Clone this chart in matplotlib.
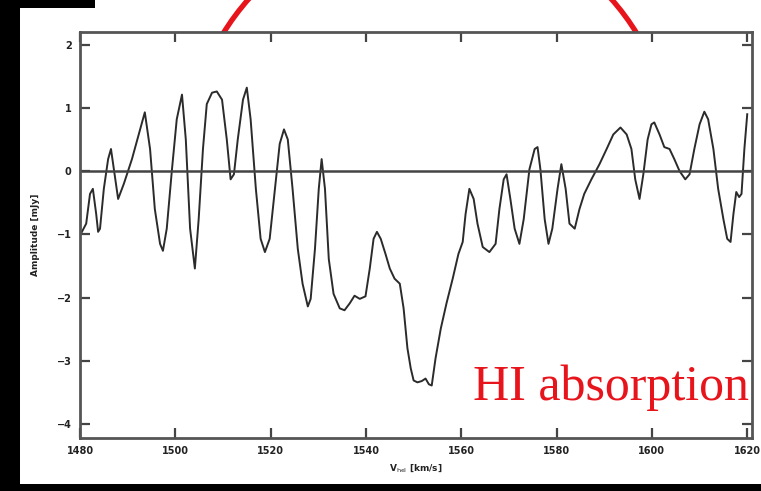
import matplotlib
matplotlib.use("Agg")
import matplotlib.pyplot as plt
from matplotlib.patches import Rectangle, Ellipse

# HI spectrum: heliocentric velocity (km/s) and amplitude (mJy)
velocity = [
    1480.4, 1481.3, 1482.1, 1482.7, 1483.4, 1483.8, 1484.2, 1485.0, 1485.9, 1486.5,
    1487.1, 1488.0, 1489.2, 1490.9, 1492.6, 1493.6, 1494.7, 1495.7, 1496.8, 1497.4,
    1498.2, 1499.3, 1500.3, 1501.4, 1502.2, 1503.1, 1504.1, 1504.9, 1505.8, 1506.6,
    1507.7, 1508.7, 1509.8, 1510.8, 1511.6, 1512.3, 1513.1, 1514.2, 1515.0, 1515.8,
    1516.9, 1517.9, 1518.8, 1519.8, 1520.9, 1521.9, 1522.8, 1523.6, 1524.6, 1525.7,
    1526.7, 1527.8, 1528.4, 1529.3, 1530.1, 1530.7, 1531.4, 1532.2, 1533.2, 1534.5,
    1535.5, 1536.6, 1537.6, 1538.7, 1539.9, 1540.8, 1541.6, 1542.3, 1543.1, 1544.1,
    1545.0, 1546.0, 1547.1, 1547.9, 1548.7, 1549.4, 1550.0, 1550.8, 1551.7, 1552.5,
    1553.2, 1553.8, 1554.6, 1555.7, 1556.9, 1558.2, 1559.4, 1560.3, 1560.9, 1561.7,
    1562.6, 1563.4, 1564.5, 1565.9, 1567.2, 1568.0, 1568.9, 1569.5, 1570.3, 1571.2,
    1572.2, 1573.1, 1574.3, 1575.4, 1576.0, 1576.6, 1577.5, 1578.3, 1579.1, 1580.2,
    1581.0, 1581.9, 1582.7, 1583.8, 1584.8, 1585.8, 1587.3, 1589.0, 1590.5, 1591.9,
    1593.4, 1594.7, 1595.7, 1596.5, 1597.4, 1598.2, 1599.1, 1599.9, 1600.5, 1601.6,
    1602.6, 1603.7, 1604.7, 1605.8, 1607.0, 1607.9, 1608.9, 1610.0, 1611.0, 1611.8,
    1612.9, 1613.9, 1615.0, 1615.8, 1616.5, 1617.1, 1617.7, 1618.3, 1618.8, 1619.4,
    1620.0,
]
amplitude = [
    -0.96, -0.83, -0.36, -0.28, -0.68, -0.96, -0.91, -0.28, 0.19, 0.35,
    0.03, -0.44, -0.20, 0.19, 0.66, 0.93, 0.35, -0.60, -1.15, -1.26,
    -0.91, 0.03, 0.82, 1.21, 0.50, -0.91, -1.54, -0.76, 0.35, 1.06,
    1.24, 1.26, 1.13, 0.50, -0.13, -0.05, 0.50, 1.13, 1.32, 0.82,
    -0.28, -1.07, -1.28, -1.07, -0.28, 0.43, 0.66, 0.50, -0.28, -1.23,
    -1.78, -2.14, -2.02, -1.23, -0.28, 0.19, -0.28, -1.39, -1.94, -2.17,
    -2.20, -2.09, -1.97, -2.02, -1.98, -1.54, -1.07, -0.96, -1.07, -1.31,
    -1.54, -1.70, -1.78, -2.17, -2.80, -3.12, -3.31, -3.34, -3.32, -3.28,
    -3.37, -3.39, -2.96, -2.49, -2.09, -1.70, -1.31, -1.12, -0.68, -0.28,
    -0.44, -0.83, -1.20, -1.28, -1.15, -0.60, -0.13, -0.05, -0.44, -0.91,
    -1.15, -0.76, 0.03, 0.35, 0.38, 0.03, -0.76, -1.15, -0.91, -0.28,
    0.11, -0.28, -0.83, -0.91, -0.60, -0.36, -0.13, 0.11, 0.35, 0.58,
    0.69, 0.58, 0.35, -0.13, -0.44, -0.05, 0.50, 0.74, 0.77, 0.58,
    0.38, 0.35, 0.19, 0.00, -0.13, -0.05, 0.35, 0.74, 0.94, 0.82,
    0.35, -0.28, -0.76, -1.07, -1.12, -0.68, -0.33, -0.41, -0.36, 0.35,
    0.90,
]

x_ticks = [1480, 1500, 1520, 1540, 1560, 1580, 1600, 1620]
y_ticks = [2, 1, 0, -1, -2, -3, -4]

W, H = 761, 491
fig = plt.figure(figsize=(W / 100, H / 100), dpi=100)
fig.patch.set_facecolor("white")


def px_box(x0, y0, x1, y1):
    """Figure-fraction rectangle from pixel edges (origin top-left)."""
    return (x0 / W, 1 - y1 / H), (x1 - x0) / W, (y1 - y0) / H


# slide decorations around the plot
for x0, y0, x1, y1 in [(0, 0, 20, 486), (0, 0, 95, 8), (0, 484, W, H)]:
    xy, w, h = px_box(x0, y0, x1, y1)
    fig.patches.append(Rectangle(xy, w, h, transform=fig.transFigure,
                                 facecolor="black", edgecolor="none", zorder=-2))

# red ring drawn behind the plot panel
r = 242.5
fig.patches.append(Ellipse((430 / W, 1 - 160 / H), 2 * r / W, 2 * r / H,
                           transform=fig.transFigure, facecolor="none",
                           edgecolor="#e8141c", linewidth=3.8, zorder=-1))

xy, w, h = px_box(80, 32, 752, 438)
ax = fig.add_axes([xy[0], xy[1], w, h])
ax.set_facecolor("white")

ax.plot(velocity, amplitude, color="#2b2b2b", linewidth=1.4)
ax.axhline(0, color="#444444", linewidth=1.8)

ax.set_xlim(1480, 1621)
ax.set_ylim(-4.22, 2.2)
ax.set_xticks(x_ticks)
ax.set_yticks(y_ticks)
ax.tick_params(direction="in", length=7, width=1.6, colors="#444444",
               top=True, right=True, labelsize=7, pad=6)
for lbl in ax.get_xticklabels() + ax.get_yticklabels():
    lbl.set_fontweight("bold")
    lbl.set_color("#222222")
for s in ax.spines.values():
    s.set_color("#555555")
    s.set_linewidth(2.0)

ax.set_xlabel(r"V$_{\rm hel}$ [km/s]", fontsize=6.5, fontweight="bold",
              color="#222222", labelpad=4)
ax.set_ylabel("Amplitude [mJy]", fontsize=6.5, fontweight="bold",
              color="#222222", labelpad=12)

ax.text(0.585, 0.094, "HI absorption", transform=ax.transAxes,
        fontsize=36, family="Liberation Serif", color="#e8141c",
        ha="left", va="baseline")

fig.savefig("out.png", dpi=100)
